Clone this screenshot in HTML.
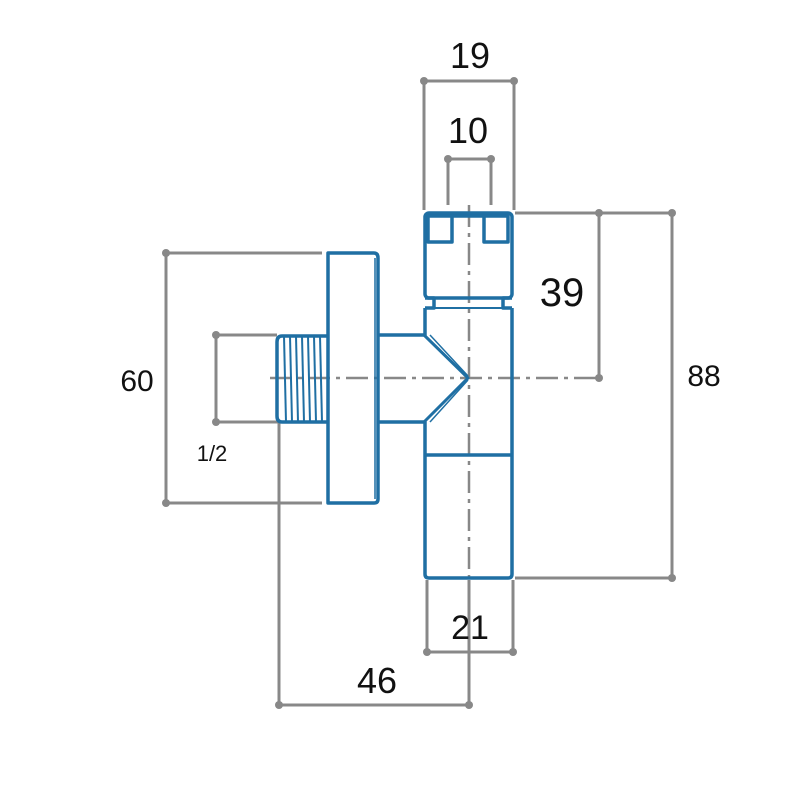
<!DOCTYPE html>
<html><head><style>body{margin:0;background:#fff}</style></head><body>
<svg width="800" height="800" viewBox="0 0 800 800" xmlns="http://www.w3.org/2000/svg" font-family="Liberation Sans, sans-serif">
<g stroke="#888" stroke-width="3" fill="none">
<!-- 19 -->
<line x1="424" y1="81" x2="514" y2="81"/><line x1="424" y1="81" x2="424" y2="210"/><line x1="514" y1="81" x2="514" y2="210"/>
<!-- 10 -->
<line x1="448" y1="159" x2="491" y2="159"/><line x1="448" y1="159" x2="448" y2="205"/><line x1="491" y1="159" x2="491" y2="205"/>
<!-- 39 -->
<line x1="515" y1="213" x2="672" y2="213"/><line x1="599" y1="213" x2="599" y2="378"/>
<!-- 88 -->
<line x1="672" y1="213" x2="672" y2="578"/><line x1="515" y1="578" x2="672" y2="578"/>
<!-- 60 -->
<line x1="166" y1="253" x2="322" y2="253"/><line x1="166" y1="503" x2="322" y2="503"/><line x1="166" y1="253" x2="166" y2="503"/>
<!-- 1/2 -->
<line x1="216" y1="335" x2="277" y2="335"/><line x1="216" y1="422" x2="278" y2="422"/><line x1="216" y1="335" x2="216" y2="422"/>
<!-- 46 -->
<line x1="279" y1="422" x2="279" y2="705"/><line x1="279" y1="705" x2="469" y2="705"/><line x1="469" y1="580" x2="469" y2="705"/>
<!-- 21 -->
<line x1="427" y1="580" x2="427" y2="652"/><line x1="513" y1="580" x2="513" y2="652"/><line x1="427" y1="652" x2="513" y2="652"/>
<!-- center lines -->
<line x1="270" y1="378" x2="599" y2="378" stroke-dasharray="22,6,4,6" stroke-width="2.5"/>
<line x1="469" y1="205" x2="469" y2="580" stroke-dasharray="22,6,4,6" stroke-width="2.5"/>
</g>
<g fill="#888">
<circle cx="424" cy="81" r="4"/><circle cx="514" cy="81" r="4"/>
<circle cx="448" cy="159" r="4"/><circle cx="491" cy="159" r="4"/>
<circle cx="599" cy="213" r="4"/><circle cx="599" cy="378" r="4"/>
<circle cx="672" cy="213" r="4"/><circle cx="672" cy="578" r="4"/>
<circle cx="166" cy="253" r="4"/><circle cx="166" cy="503" r="4"/>
<circle cx="216" cy="335" r="4"/><circle cx="216" cy="422" r="4"/>
<circle cx="279" cy="705" r="4"/><circle cx="469" cy="705" r="4"/>
<circle cx="427" cy="652" r="4"/><circle cx="513" cy="652" r="4"/>
</g>
<g stroke="#1f6fa3" stroke-width="3.5" fill="none" stroke-linejoin="round">
<!-- cap -->
<rect x="425" y="213" width="87" height="85" rx="4"/>
<rect x="428" y="216" width="24" height="26"/><rect x="484" y="216" width="24" height="26"/>
<line x1="452" y1="216" x2="484" y2="216"/>
<path d="M425 298 L434 298 L434 308 L425 308 M512 298 L503 298 L503 308 L512 308"/>
<line x1="434" y1="308" x2="503" y2="308" stroke-width="2"/>
<!-- body -->
<path d="M425 308 L425 335 L378 335 M378 422 L425 422 L425 574 Q425 578 429 578 L508 578 Q512 578 512 574 L512 308"/>
<line x1="425" y1="455" x2="512" y2="455"/>
<path d="M424 335 L468 378 L424 422" stroke-width="3"/>
<path d="M430 335 L468 376 M430 422 L468 380" stroke-width="1.5"/>
<!-- flange -->
<path d="M328 253 L374 253 Q378 253 378 258 L378 499 Q378 503 374 503 L328 503 Z"/>
<line x1="375" y1="258" x2="375" y2="499" stroke-width="1.5"/>
<!-- thread -->
<path d="M328 336 L282 336 Q277 336 277 342 L277 416 Q277 422 282 422 L328 422"/>
<g stroke-width="2">
<line x1="284" y1="336" x2="286" y2="422"/><line x1="290" y1="336" x2="292" y2="422"/>
<line x1="296" y1="336" x2="298" y2="422"/><line x1="302" y1="336" x2="304" y2="422"/>
<line x1="308" y1="336" x2="310" y2="422"/><line x1="314" y1="336" x2="316" y2="422"/>
<line x1="320" y1="336" x2="322" y2="422"/>
</g>
</g>
<g fill="#111" text-anchor="middle">
<text x="470" y="68" font-size="36">19</text>
<text x="468" y="143" font-size="36">10</text>
<text x="562" y="306" font-size="40">39</text>
<text x="704" y="386" font-size="30">88</text>
<text x="137" y="391" font-size="30">60</text>
<text x="212" y="461" font-size="22">1/2</text>
<text x="470" y="639" font-size="34">21</text>
<text x="377" y="693" font-size="36">46</text>
</g>
</svg>
</body></html>
